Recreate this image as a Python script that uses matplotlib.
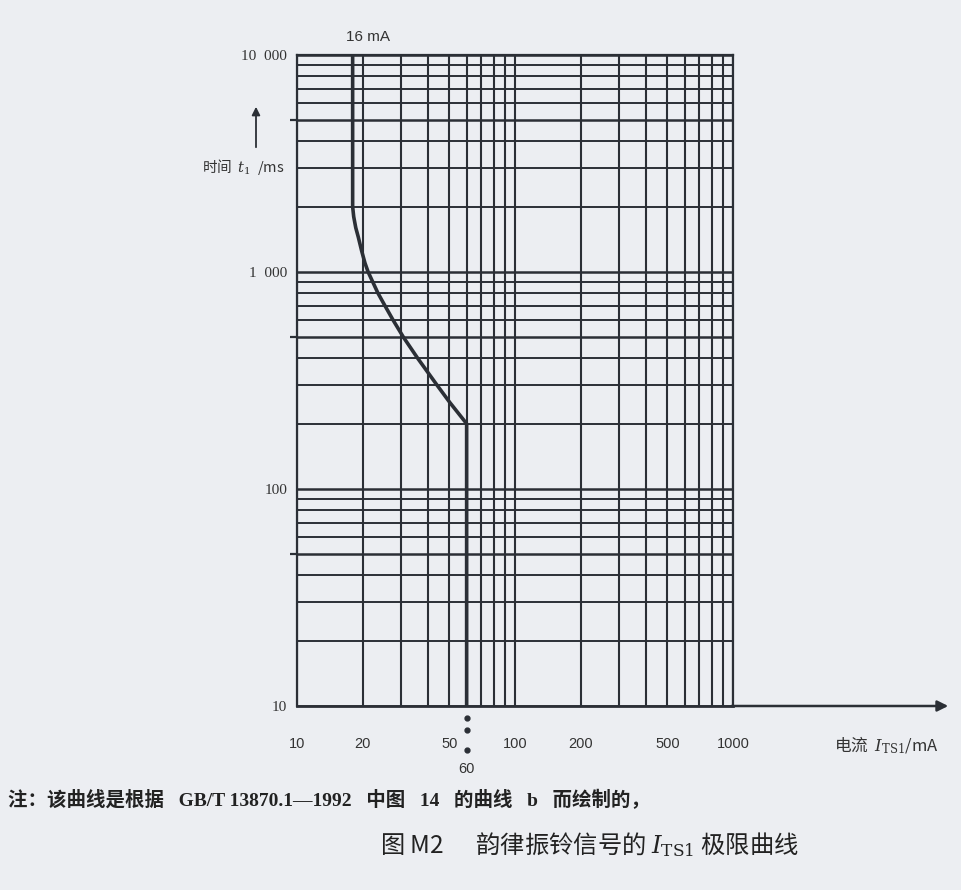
import numpy as np
from matplotlib import pyplot as plt
from matplotlib.patches import FancyArrowPatch
from matplotlib.ticker import FixedLocator, NullFormatter

plt.rcParams['font.family'] = ['Noto Sans CJK SC', 'DejaVu Sans']
plt.rcParams['mathtext.fontset'] = 'dejavuserif'

# 极限曲线: 电流 (mA) / 时间 (ms)
curve_i = [18, 18, 18.2, 18.6, 19.1, 19.8, 20.5, 21.2, 23.5, 25.3, 27.6, 30.8, 35.8, 44.0, 50.3, 60.0, 60.0]
curve_t = [10000, 2000, 1800, 1600, 1450, 1250, 1100, 1000, 800, 700, 600, 500, 400, 300, 250, 200, 10]

x_ticks = [10, 20, 50, 100, 200, 500, 1000]
x_labels = ['10', '20', '50', '100', '200', '500', '1000']
y_ticks = [10, 100, 1000, 10000]
y_labels = ['10', '100', '1  000', '10  000']
x_marks = [10, 50, 100, 500, 1000]
y_marks = [10, 50, 100, 500, 1000, 5000, 10000]

grid_i = [m * 10 ** d for d in (1, 2) for m in range(1, 10)] + [1000]
grid_t = [m * 10 ** d for d in (1, 2, 3) for m in range(1, 10)] + [10000]

bg = '#eceef2'
ink = '#2b2f36'
txt = '#333333'
serif_cjk = ['Liberation Serif', 'Noto Sans CJK SC']

fig = plt.figure(figsize=(9.61, 8.90), dpi=100, facecolor=bg)
ax = fig.add_axes([297 / 961, 1 - 706 / 890, 436 / 961, 651 / 890])
ax.set_facecolor(bg)
ax.set_xscale('log')
ax.set_yscale('log')
ax.set_xlim(10, 1000)
ax.set_ylim(10, 10000)

for v in grid_i:
    ax.axvline(v, color=ink, lw=1.5, zorder=1)
for v in grid_t:
    ax.axhline(v, color=ink, lw=1.8 if v in y_marks else 1.4, zorder=1)

ax.plot(curve_i, curve_t, color=ink, lw=2.6, zorder=3,
        solid_joinstyle='round', solid_capstyle='round')

for s in ax.spines.values():
    s.set_color(ink)
    s.set_linewidth(1.6)
ax.spines['bottom'].set_linewidth(2.0)

# tick labels and tick marks
ax.set_xticks(x_ticks)
ax.set_xticklabels(x_labels, fontsize=10.5, color=txt, family='Liberation Sans')
ax.set_yticks(y_ticks)
ax.set_yticklabels(y_labels, fontsize=11, color=txt, family='Liberation Serif')
ax.xaxis.set_minor_locator(FixedLocator(x_marks))
ax.yaxis.set_minor_locator(FixedLocator(y_marks))
ax.xaxis.set_minor_formatter(NullFormatter())
ax.yaxis.set_minor_formatter(NullFormatter())
ax.tick_params(axis='x', which='major', length=0, pad=22)
ax.tick_params(axis='y', which='major', length=0, pad=7)
ax.tick_params(axis='x', which='minor', length=8, width=1.6, color=ink, direction='out')
ax.tick_params(axis='y', which='minor', length=5, width=1.6, color=ink, direction='out')

# x axis arrow
ax.annotate('', xy=(1.50, 0), xytext=(0.99, 0), xycoords='axes fraction',
            arrowprops=dict(arrowstyle='-|>', color=ink, lw=1.8, mutation_scale=16))

# 60 mA marker below axis
tr = ax.get_xaxis_transform()
ax.plot([60, 60, 60], [-0.018, -0.037, -0.068], 'o', ms=3.5, color=ink,
        transform=tr, clip_on=False)
ax.text(60, -0.097, '60', transform=tr, ha='center', va='center',
        fontsize=10.5, color=txt, family='Liberation Sans')

ax.text(0.163, 1.028, '16 mA', transform=ax.transAxes, ha='center', va='center',
        fontsize=11, color=txt, family='Liberation Sans')

# y axis arrow and label
fig.add_artist(FancyArrowPatch(
    (256 / 961, 1 - 150 / 890), (256 / 961, 1 - 104 / 890),
    transform=fig.transFigure, arrowstyle='-|>', mutation_scale=12,
    color=ink, lw=1.3))
fig.text(243 / 961, 1 - 167 / 890, '时间  $t_1$  /ms', ha='center', va='center',
         fontsize=10.5, color=txt)

fig.text(886 / 961, 1 - 745 / 890, '电流  $I_{\\mathrm{TS1}}$/mA', ha='center', va='center',
         fontsize=12, color=txt)

fig.text(8 / 961, 1 - 800 / 890,
         '注：该曲线是根据   GB/T 13870.1—1992   中图   14   的曲线   b   而绘制的，',
         ha='left', va='center', fontsize=14, fontweight='bold', color='#222222',
         family=serif_cjk)
fig.text(589 / 961, 1 - 845 / 890,
         '图 M2      韵律振铃信号的 $I_{\\mathrm{TS1}}$ 极限曲线',
         ha='center', va='center', fontsize=17.5, color='#222222')

fig.savefig('out.png', dpi=100, facecolor=bg)
